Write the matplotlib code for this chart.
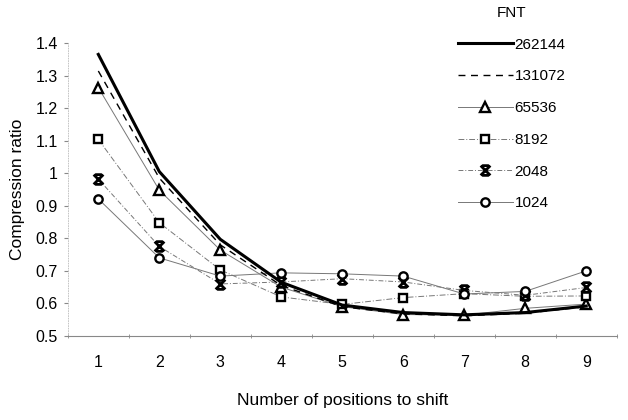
import matplotlib
matplotlib.use("Agg")
import matplotlib.pyplot as plt
from matplotlib.ticker import FixedLocator, FuncFormatter
from matplotlib.path import Path

plt.rcParams['font.family'] = ['Liberation Sans', 'DejaVu Sans']

shifts = [1, 2, 3, 4, 5, 6, 7, 8, 9]
fnt_labels = ['262144', '131072', '65536', '8192', '2048', '1024']
s262144 = [1.365, 1.005, 0.797, 0.665, 0.595, 0.572, 0.565, 0.572, 0.592]
s131072 = [1.314, 0.985, 0.780, 0.655, 0.590, 0.568, 0.562, 0.570, 0.590]
s65536 = [1.263, 0.948, 0.764, 0.650, 0.590, 0.566, 0.564, 0.585, 0.598]
s8192 = [1.104, 0.848, 0.703, 0.620, 0.597, 0.618, 0.630, 0.622, 0.623]
s2048 = [0.982, 0.775, 0.660, 0.666, 0.676, 0.666, 0.640, 0.625, 0.649]
s1024 = [0.921, 0.740, 0.684, 0.694, 0.691, 0.684, 0.629, 0.637, 0.700]
yticks = [0.5, 0.6, 0.7, 0.8, 0.9, 1.0, 1.1, 1.2, 1.3, 1.4]

# hourglass-like star marker
star = Path([(-1, -1), (1, 1), (-1, 1), (1, -1), (-0.7, 1), (0.7, 1), (-0.7, -1), (0.7, -1)],
            [Path.MOVETO, Path.LINETO, Path.MOVETO, Path.LINETO,
             Path.MOVETO, Path.LINETO, Path.MOVETO, Path.LINETO])

fig = plt.figure(figsize=(6.28, 4.2), dpi=100)
ax = fig.add_axes([0.108, 0.2, 0.874, 0.6976])

ax.plot(shifts, s262144, color='black', lw=2.2, label=fnt_labels[0], zorder=5)
ax.plot(shifts, s131072, color='black', lw=1.0, ls=(0, (5, 4)), label=fnt_labels[1], zorder=4)
mk = dict(mfc='white', mec='black', mew=1.7, color='#777777', lw=0.7)
ax.plot(shifts, s65536, marker='^', ms=6.5, ls='-', label=fnt_labels[2], zorder=3, **mk)
ax.plot(shifts, s8192, marker='s', ms=6, ls=(0, (6, 2, 1, 2)), label=fnt_labels[3], zorder=3, **mk)
ax.plot(shifts, s2048, marker=star, ms=7, ls=(0, (5, 2, 1, 2)), label=fnt_labels[4], zorder=3,
        mfc='black', mec='black', mew=2.0, color='#777777', lw=0.7)
ax.plot(shifts, s1024, marker='o', ms=6, ls='-', label=fnt_labels[5], zorder=3, **mk)

ax.set_xlim(0.5, 9.5)
ax.set_ylim(0.5, 1.4)
ax.set_xticks(shifts)
ax.xaxis.set_minor_locator(FixedLocator([i + 0.5 for i in range(0, 10)]))
ax.tick_params(axis='x', which='major', length=0, pad=14, labelsize=11.5)
ax.tick_params(axis='x', which='minor', length=3, direction='inout', color='#888888')
ax.set_yticks(yticks)
ax.yaxis.set_major_formatter(FuncFormatter(lambda v, p: ('%g' % round(v, 1))))
ax.tick_params(axis='y', length=3, direction='out', color='#888888', labelsize=11.5, pad=4)

for s in ['top', 'right']:
    ax.spines[s].set_visible(False)
ax.spines['left'].set_color('#bbbbbb')
ax.spines['left'].set_linewidth(0.6)
ax.spines['left'].set_linestyle((0, (1, 2)))
ax.spines['bottom'].set_color('#888888')
ax.spines['bottom'].set_linewidth(0.8)

ax.set_xlabel('Number of positions to shift', fontsize=12.5, labelpad=16)
ax.set_ylabel('Compression ratio', fontsize=12.5, labelpad=8)

leg = ax.legend(loc='upper left', bbox_to_anchor=(458 / 628, 1 - 6 / 420),
                bbox_transform=fig.transFigure, frameon=False, title='FNT',
                fontsize=11, title_fontsize=11, labelspacing=1.16,
                handlelength=3.6, handletextpad=0.1, borderpad=0, borderaxespad=0)
fig.savefig('out.png', dpi=100)
